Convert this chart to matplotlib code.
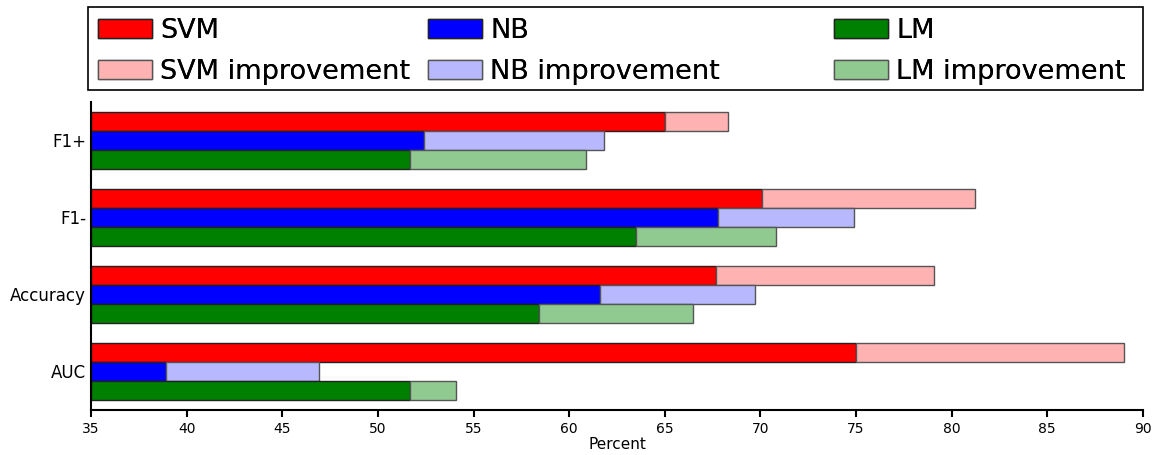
import numpy as np
import matplotlib
matplotlib.use('Agg')
import matplotlib.pyplot as plt
from matplotlib.patches import Rectangle

metrics = ['F1+', 'F1-', 'Accuracy', 'AUC']

svm_base = [65.0, 70.1, 67.7, 75.0]
svm_impr = [68.3, 81.2, 79.1, 89.0]
nb_base = [52.4, 67.8, 61.6, 38.9]
nb_impr = [61.8, 74.9, 69.7, 46.9]
lm_base = [51.7, 63.5, 58.4, 51.7]
lm_impr = [60.9, 70.8, 66.5, 54.1]

models = ['SVM', 'NB', 'LM']
colors = ['#ff0000', '#0000ff', '#008000']
light_colors = ['#ffb2b2', '#b8b8ff', '#90ca90']


def main():
    fig = plt.figure(figsize=(11.56, 4.55), dpi=100)
    ax = fig.add_axes([0.0787, 0.099, 0.91, 0.677])

    xmin = 35
    h = 0.25
    pos = np.arange(len(metrics))[::-1]
    bases = [svm_base, nb_base, lm_base]
    imprs = [svm_impr, nb_impr, lm_impr]

    handles = []
    for i in range(3):
        y = pos + 0.75 - h * (i + 0.5)
        b = np.array(bases[i])
        m = np.array(imprs[i])
        hb = ax.barh(y, b - xmin, left=xmin, height=h, color=colors[i],
                     edgecolor='#222222', linewidth=1, label=models[i])
        hi = ax.barh(y, m - b, left=b, height=h, color=light_colors[i],
                     edgecolor='#555555', linewidth=1,
                     label=models[i] + ' improvement')
        handles.append([hb, hi])

    ax.set_xlim(35, 90)
    ax.set_ylim(-0.125, 3.875)
    ax.set_xticks(range(35, 91, 5))
    ax.set_yticks(pos + 0.375)
    ax.set_yticklabels(metrics, fontsize=12)
    ax.tick_params(axis='x', labelsize=10, width=1.5, length=5)
    ax.tick_params(axis='y', length=0)
    ax.set_xlabel('Percent', fontsize=11, labelpad=1)
    ax.spines['top'].set_visible(False)
    ax.spines['right'].set_visible(False)
    ax.spines['left'].set_linewidth(1.5)
    ax.spines['bottom'].set_linewidth(1.5)

    # legend frame + three one-column legends (uneven column spacing)
    fig.patches.append(Rectangle((0.0761, 0.8022), 0.9126, 0.1824,
                                 transform=fig.transFigure, fill=False,
                                 edgecolor='black', linewidth=1.2))
    col_x = [0.0848, 0.3702, 0.7215]
    for i in range(3):
        leg = fig.legend(handles=handles[i], loc='upper left',
                         bbox_to_anchor=(col_x[i], 0.96), frameon=False,
                         fontsize=19.5, handletextpad=0.3, borderpad=0,
                         borderaxespad=0, labelspacing=0.53)
        fig.add_artist(leg)
    fig.savefig('out.png', dpi=100)


if __name__ == '__main__':
    main()
